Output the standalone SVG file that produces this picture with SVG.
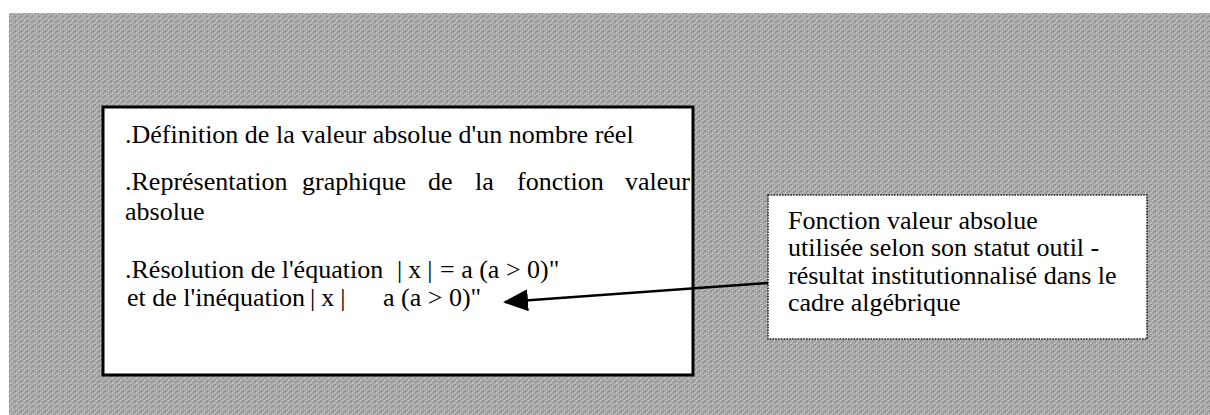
<svg xmlns="http://www.w3.org/2000/svg" width="1210" height="415" viewBox="0 0 1210 415">
<style>
.t{font-family:"Liberation Serif","Times New Roman",serif;font-size:26px;fill:#000}
.box{fill:#fff;stroke:#000;stroke-width:3}
.dbox{fill:#fff;stroke:#222;stroke-width:1.6;stroke-dasharray:1.6 1.2}
.conn{stroke:#000;stroke-width:2.6;fill:none}
</style>
<defs>
<pattern id="grain" patternUnits="userSpaceOnUse" width="6" height="5">
<rect width="6" height="5" fill="#a9a9a9"/>
<rect x="0" y="0" width="1" height="1" fill="#d4d4d4"/>
<rect x="3" y="1" width="1" height="1" fill="#7c7c7c"/>
<rect x="1" y="2" width="1" height="1" fill="#888"/>
<rect x="4" y="3" width="1" height="1" fill="#d0d0d0"/>
<rect x="2" y="4" width="1" height="1" fill="#c8c8c8"/>
<rect x="5" y="2" width="1" height="1" fill="#c4c4c4"/>
<rect x="5" y="4" width="1" height="1" fill="#858585"/>
<rect x="2" y="0" width="1" height="1" fill="#8a8a8a"/>
</pattern>
<marker id="ah" markerUnits="userSpaceOnUse" markerWidth="26" markerHeight="24" refX="23" refY="11" orient="auto">
<path d="M0,0 L25,11 L0,22 z" fill="#000"/>
</marker>
</defs>
<rect width="1210" height="415" fill="#fff"/>
<rect id="background" x="9" y="13" width="1201" height="402" fill="url(#grain)"/>
<g id="node-left">
<rect class="box" x="103" y="107" width="590" height="268"/>
<text class="t" x="125" y="143">.Définition de la valeur absolue d'un nombre réel</text>
<text class="t" y="190"><tspan x="125">.Représentation</tspan><tspan x="302">graphique</tspan><tspan x="428">de</tspan><tspan x="475">la</tspan><tspan x="517">fonction</tspan><tspan x="625">valeur</tspan></text>
<text class="t" x="125" y="220">absolue</text>
<text class="t" y="278"><tspan x="125">.Résolution de l'équation</tspan><tspan x="397" letter-spacing="6">|x|</tspan><tspan x="440">= a (a &gt; 0)"</tspan></text>
<text class="t" y="306"><tspan x="127">et de l'inéquation</tspan><tspan x="310" letter-spacing="6">|x|</tspan><tspan x="383">a (a &gt; 0)"</tspan></text>
</g>
<g id="node-right">
<rect class="dbox" x="768" y="195" width="379" height="144"/>
<text class="t" x="788" y="229">Fonction valeur absolue</text>
<text class="t" x="788" y="256">utilisée selon son statut outil -</text>
<text class="t" x="788" y="284">résultat institutionnalisé dans le</text>
<text class="t" x="788" y="311">cadre algébrique</text>
</g>
<g id="connectors">
<line class="conn" x1="768" y1="283" x2="505" y2="302" marker-end="url(#ah)"/>
</g>
</svg>
